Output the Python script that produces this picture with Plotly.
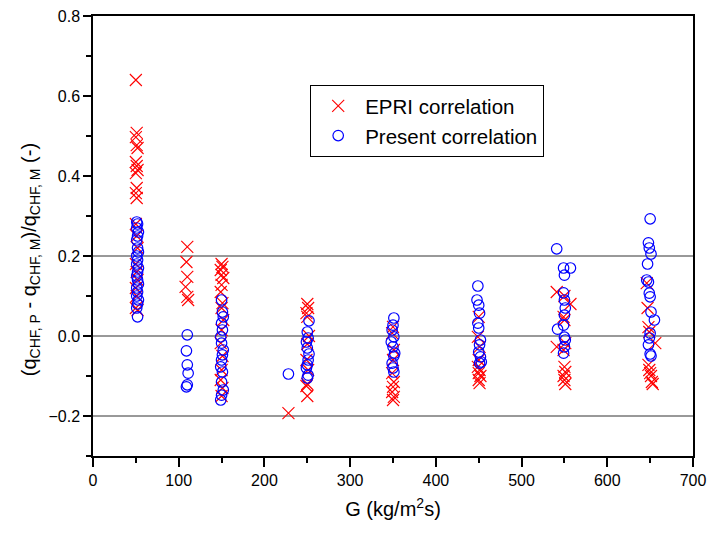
import plotly.graph_objects as go

# ---- data ----
epri_G = [50, 51, 50, 51, 52, 50, 51, 52, 50, 51, 50, 51,
          50, 51, 52, 50, 51, 52, 50, 51, 50, 52,
          110, 109, 110, 108, 110, 111,
          150, 151, 149, 150, 152, 150, 149, 151, 150, 152, 150, 149, 151, 150, 149, 151, 150,
          228,
          250, 251, 249, 250, 252, 250, 249, 251, 250, 249, 250,
          350, 349, 351, 350, 349, 351, 350, 349, 351, 350,
          450, 449, 451, 450, 449, 451, 450, 452, 450, 451,
          541, 541, 550, 557, 549, 550, 551, 549, 550, 551, 549, 550, 551,
          646, 647, 648, 649, 656, 648, 649, 650, 651, 652, 653]
epri_dev = [0.64, 0.508, 0.497, 0.477, 0.47, 0.435, 0.425, 0.415, 0.407, 0.37, 0.357, 0.345,
            0.28, 0.25, 0.22, 0.18, 0.16, 0.14, 0.12, 0.10, 0.07, 0.065,
            0.223, 0.185, 0.148, 0.123, 0.098, 0.09,
            0.18, 0.173, 0.165, 0.153, 0.145, 0.128, 0.11, 0.082, 0.07, 0.04, 0.015, -0.018, -0.05, -0.085, -0.11, -0.13, -0.15,
            -0.193,
            0.08, 0.07, 0.057, 0.048, 0.0, -0.02, -0.06, -0.085, -0.12, -0.125, -0.15,
            0.023, 0.007, -0.035, -0.06, -0.093, -0.115, -0.127, -0.14, -0.152, -0.16,
            0.048, -0.002, -0.027, -0.06, -0.077, -0.085, -0.093, -0.1, -0.11, -0.118,
            0.11, -0.027, 0.1, 0.08, 0.048, 0.04, -0.018, -0.035, -0.077, -0.09, -0.1, -0.11, -0.12,
            0.132, 0.07, 0.022, 0.01, -0.018, -0.072, -0.085, -0.093, -0.1, -0.115, -0.12]

present_G = [51, 52, 51, 53, 52, 51, 52, 53, 51, 52, 51, 53, 52, 51, 52, 53, 51, 52, 51, 53, 52, 51, 52,
             110, 109, 110, 111, 110, 109,
             150, 151, 152, 150, 151, 149, 150, 152, 151, 150, 149, 151, 150, 152, 150, 149,
             228,
             252, 250, 251, 249, 250, 252, 251, 250, 249, 251, 250,
             351, 350, 349, 351, 348, 350, 352, 351, 349, 350, 351,
             449, 448, 450, 451, 449, 450, 452, 451, 450, 452, 453, 451,
             541, 542, 549, 557, 550, 549, 550, 551, 550, 549, 550, 551, 550, 549,
             650, 648, 649, 651, 647, 646, 648, 649, 650, 651, 655, 650, 649, 648, 650, 651]
present_dev = [0.285, 0.28, 0.27, 0.26, 0.25, 0.24, 0.22, 0.21, 0.20, 0.19, 0.18, 0.17, 0.16, 0.15, 0.14, 0.13, 0.12, 0.11, 0.10, 0.09, 0.08, 0.07, 0.048,
               0.003, -0.037, -0.072, -0.093, -0.122, -0.127,
               0.09, 0.06, 0.048, 0.032, 0.015, -0.002, -0.018, -0.035, -0.047, -0.06, -0.077, -0.09, -0.115, -0.135, -0.148, -0.16,
               -0.095,
               0.038, 0.01, -0.005, -0.015, -0.03, -0.045, -0.06, -0.072, -0.08, -0.098, -0.105,
               0.045, 0.027, 0.015, -0.002, -0.015, -0.027, -0.043, -0.05, -0.068, -0.08, -0.09,
               0.125, 0.09, 0.077, 0.057, 0.032, 0.02, -0.01, -0.022, -0.04, -0.052, -0.065, -0.068,
               0.218, 0.017, 0.17, 0.17, 0.152, 0.108, 0.09, 0.07, 0.052, 0.027, -0.003, -0.01, -0.027, -0.043,
               0.293, 0.233, 0.22, 0.205, 0.18, 0.14, 0.135, 0.107, 0.098, 0.06, 0.04, 0.007, -0.005, -0.022, -0.045, -0.05]

ref_lines = [0.2, 0.0, -0.2]

FONT = "Liberation Sans, Arial, sans-serif"

fig = go.Figure()
fig.add_trace(go.Scatter(
    x=epri_G, y=epri_dev, mode="markers", name="EPRI correlation",
    marker=dict(symbol="x-thin", size=12, color="#ff0000",
                line=dict(color="#ff0000", width=1.1)),
))
fig.add_trace(go.Scatter(
    x=present_G, y=present_dev, mode="markers", name="Present correlation",
    marker=dict(symbol="circle-open", size=10.5, color="#0000ff",
                line=dict(color="#0000ff", width=1.2)),
))

for v in ref_lines:
    fig.add_shape(type="line", xref="paper", x0=0, x1=1, yref="y", y0=v, y1=v,
                  line=dict(color="#333333", width=1), layer="below")

# y-axis title placed as rotated text (the reference centres it below the axis middle)
fig.add_annotation(
    text="(q<sub>CHF, P</sub> - q<sub>CHF, M</sub>)/q<sub>CHF, M</sub> (-)",
    xref="paper", yref="paper", x=0, y=0.445, xshift=-63,
    xanchor="center", yanchor="middle", textangle=-90, showarrow=False,
    font=dict(family=FONT, size=20, color="black"),
)

fig.update_layout(
    width=712, height=539,
    margin=dict(l=93, r=19, t=16, b=83),
    plot_bgcolor="white", paper_bgcolor="white",
    font=dict(family=FONT, size=16, color="black"),
    showlegend=True,
    legend=dict(x=0.362, y=0.843, xanchor="left", yanchor="top",
                bordercolor="black", borderwidth=1, bgcolor="white",
                font=dict(family=FONT, size=20.5), itemwidth=44,
                tracegroupgap=0),
    xaxis=dict(
        range=[0, 700], tick0=0, dtick=100, automargin=False,
        showline=True, linecolor="black", linewidth=1.5, mirror=True,
        ticks="outside", ticklen=9, tickwidth=1.5, tickcolor="black",
        minor=dict(ticks="outside", ticklen=5, tickwidth=1.5, tickcolor="black", dtick=50, showgrid=False),
        showgrid=False, zeroline=False,
        title=dict(text="G (kg/m<sup>2</sup>s)", font=dict(size=20), standoff=14),
        tickfont=dict(size=16),
    ),
    yaxis=dict(
        range=[-0.3, 0.8], tick0=0, dtick=0.2, tickformat=".1f", automargin=False,
        showline=True, linecolor="black", linewidth=1.5, mirror=True,
        ticks="outside", ticklen=8, tickwidth=1.5, tickcolor="black",
        minor=dict(ticks="outside", ticklen=5, tickwidth=1.5, tickcolor="black", dtick=0.1, showgrid=False),
        showgrid=False, zeroline=False,
        tickfont=dict(size=16),
    ),
)

fig.write_html("out.html")
